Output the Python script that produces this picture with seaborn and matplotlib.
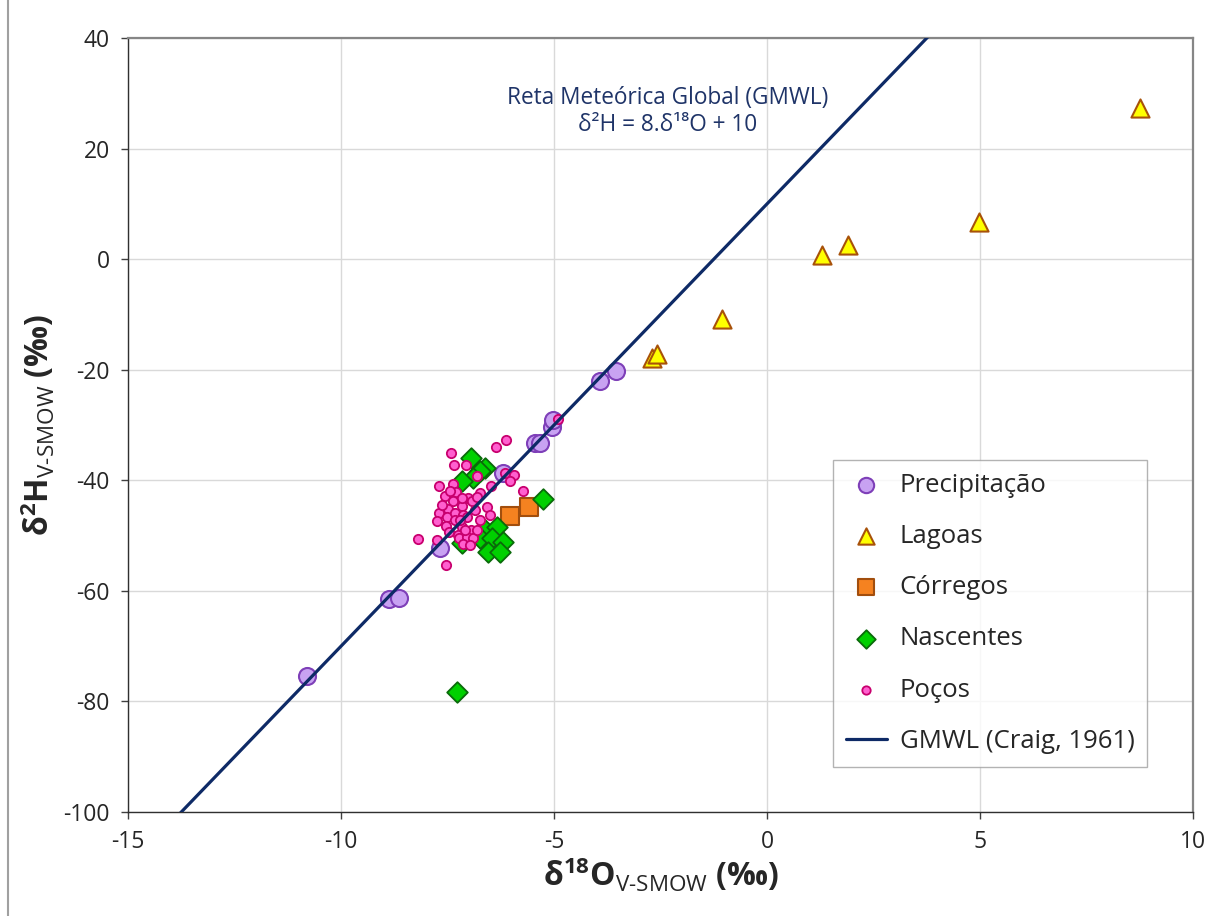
import numpy as np
import pandas as pd
import matplotlib
matplotlib.use("Agg")
import matplotlib.pyplot as plt
import seaborn as sns
from matplotlib.lines import Line2D

# Données isotopiques (delta 18O, delta 2H)
prec_o = [-10.80, -8.87, -8.64, -7.68, -6.20, -5.45, -5.33, -5.05, -5.02, -3.92, -3.54]
prec_h = [-75.4, -61.4, -61.3, -52.2, -38.7, -33.2, -33.2, -30.3, -29.1, -22.0, -20.2]

lag_o = [-2.70, -2.58, -1.06, 1.29, 1.90, 4.98, 8.76]
lag_h = [-17.9, -17.2, -10.8, 0.8, 2.6, 6.7, 27.3]

corr_o = [-6.03, -5.58]
corr_h = [-46.4, -44.9]

nasc_o = [-6.95, -6.62, -6.74, -6.91, -7.17, -5.27, -6.62, -6.35, -6.74, -6.46,
          -6.19, -6.54, -6.27, -7.17, -7.28]
nasc_h = [-36.0, -37.8, -38.4, -39.6, -40.2, -43.4, -49.0, -48.4, -50.5, -50.5,
          -51.1, -52.9, -52.9, -51.4, -78.3]

poco_o = [-6.13, -6.37, -7.42, -7.34, -7.07, -6.82, -6.15, -5.95, -6.03, -5.72,
          -7.69, -7.38, -7.30, -7.57, -7.01, -6.74, -6.49, -7.36, -7.17, -6.93,
          -7.48, -7.69, -7.52, -7.32, -7.13, -6.85, -6.57, -6.50, -7.74, -7.54,
          -7.32, -7.17, -6.96, -6.74, -7.46, -7.25, -7.22, -7.05, -6.91, -8.20,
          -7.74, -7.14, -6.97, -7.54, -7.17, -7.44, -6.82, -7.05, -7.64, -7.21,
          -6.82, -7.09, -4.91]
poco_h = [-32.7, -34.0, -35.1, -37.3, -37.2, -39.2, -38.6, -39.0, -40.2, -41.9,
          -41.0, -40.7, -42.2, -42.8, -43.2, -42.3, -41.1, -43.8, -44.6, -43.8,
          -45.1, -46.0, -46.6, -46.0, -46.3, -45.4, -44.9, -46.3, -47.3, -48.2,
          -47.2, -48.4, -49.0, -47.2, -49.3, -49.9, -50.5, -50.3, -50.5, -50.7,
          -50.8, -51.5, -51.7, -55.3, -43.2, -42.0, -43.1, -46.6, -44.5, -47.2,
          -49.0, -49.0, -28.9]

x_ticks = [-15, -10, -5, 0, 5, 10]
y_ticks = [40, 20, 0, -20, -40, -60, -80, -100]

sns.set_style("white")
plt.rcParams['font.family'] = ['Open Sans', 'DejaVu Sans']
plt.rcParams['axes.unicode_minus'] = False
plt.rcParams['mathtext.fontset'] = 'custom'
plt.rcParams['mathtext.rm'] = 'Open Sans'
plt.rcParams['mathtext.bf'] = 'Open Sans:bold'
plt.rcParams['mathtext.it'] = 'Open Sans:italic'

fig = plt.figure(figsize=(12.09, 9.16), dpi=100)
ax = fig.add_axes([0.1059, 0.1135, 0.8809, 0.845])

# Grille
for xv in x_ticks:
    ax.axvline(xv, color='#D9D9D9', lw=1, zorder=0)
for yv in y_ticks:
    ax.axhline(yv, color='#D9D9D9', lw=1, zorder=0)

series = [
    ('Precipitação', prec_o, prec_h, 'o', '#C8A2F2', '#7E3FB8', 150, 1.5),
    ('Lagoas', lag_o, lag_h, '^', '#FFFF00', '#A8520A', 170, 1.5),
    ('Córregos', corr_o, corr_h, 's', '#F58220', '#A24E0D', 150, 1.5),
    ('Nascentes', nasc_o, nasc_h, 'D', '#00D000', '#0A6A0A', 110, 1.3),
    ('Poços', poco_o, poco_h, 'o', '#FF5FCF', '#C8006E', 45, 1.3),
]

for i, (nom, xs, ys, mk, fc, ec, s, lw) in enumerate(series):
    df = pd.DataFrame({'o18': xs, 'h2': ys})
    sns.scatterplot(data=df, x='o18', y='h2', marker=mk, color=fc, edgecolor=ec,
                    linewidth=lw, s=s, label=nom, ax=ax, zorder=3 + i)

# Reta meteórica global: d2H = 8 d18O + 10
gm_x = np.array([-15, 10])
gm = pd.DataFrame({'o18': gm_x, 'h2': 8 * gm_x + 10})
sns.lineplot(data=gm, x='o18', y='h2', color='#0E2A66', lw=2.3,
             label='GMWL (Craig, 1961)', ax=ax, zorder=10)

ax.set_xlim(-15, 10)
ax.set_ylim(-100, 40)
ax.set_xticks(x_ticks)
ax.set_yticks(y_ticks)
ax.tick_params(axis='both', labelsize=16.5, direction='out', length=5,
               width=1, color='#404040', pad=8, bottom=True, left=True)

for s in ['left', 'bottom']:
    ax.spines[s].set_color('#303030')
    ax.spines[s].set_linewidth(1)
for s in ['top', 'right']:
    ax.spines[s].set_color('#868686')
    ax.spines[s].set_linewidth(1.6)

ax.set_xlabel(r'$\mathbf{\delta^{18}O}_{\mathrm{V\text{-}SMOW}}$ (‰)', fontsize=23,
              fontweight='bold', labelpad=2)
ax.set_ylabel(r'$\mathbf{\delta^{2}H}_{\mathrm{V\text{-}SMOW}}$ (‰)', fontsize=23,
              fontweight='bold', labelpad=4)

ax.text(0.507, 0.905, 'Reta Meteórica Global (GMWL)\nδ²H = 8.δ¹⁸O + 10',
        transform=ax.transAxes, ha='center', va='center', fontsize=16.3,
        color='#1F3468', linespacing=1.2)

leg = ax.legend(loc='upper right', bbox_to_anchor=(0.957, 0.455), fontsize=18.5,
                frameon=True, fancybox=False, edgecolor='#A0A0A0',
                labelspacing=1.02, handlelength=1.6, handletextpad=0.5,
                borderpad=0.5, borderaxespad=0, markerscale=0.9)
leg.get_frame().set_linewidth(1)

fig.add_artist(Line2D([8 / 1209, 8 / 1209], [0, 1], color='#A0A0A0', lw=1.5,
                      transform=fig.transFigure))

fig.savefig('out.png', dpi=100)
